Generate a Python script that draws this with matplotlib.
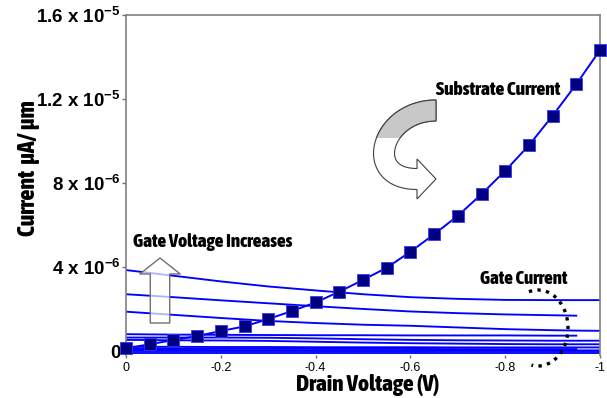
import numpy as np
import matplotlib
matplotlib.use('Agg')
import matplotlib.pyplot as plt
from matplotlib import font_manager
from matplotlib.font_manager import FontProperties
from matplotlib.patches import FancyArrowPatch, Arc, Rectangle, Polygon
from matplotlib.transforms import Affine2D

# ---- data (current in 1e-6 A/um) ----
v_sub = [0, -0.05, -0.1, -0.15, -0.2, -0.25, -0.3, -0.35, -0.4, -0.45, -0.5,
         -0.55, -0.6, -0.65, -0.7, -0.75, -0.8, -0.85, -0.9, -0.95, -1.0]
i_sub = [0.15, 0.34, 0.54, 0.73, 0.97, 1.19, 1.54, 1.92, 2.33, 2.84, 3.40,
         3.98, 4.74, 5.57, 6.45, 7.48, 8.59, 9.80, 11.21, 12.71, 14.33]

v_gate = [0, -0.1, -0.2, -0.3, -0.4, -0.5, -0.6, -0.7, -0.8, -0.9, -0.95, -1.0]
gate_a = [3.87, 3.60, 3.33, 3.09, 2.90, 2.72, 2.58, 2.50, 2.45, 2.44, 2.44, 2.44]
gate_b = [2.72, 2.58, 2.43, 2.29, 2.15, 2.02, 1.90, 1.82, 1.76, 1.72, 1.70, np.nan]
gate_c = [1.89, 1.74, 1.59, 1.45, 1.35, 1.27, 1.22, 1.14, 1.06, 1.01, 0.99, 0.98]
gate_d = [0.82, 0.80, 0.79, 0.78, 0.77, 0.77, 0.76, 0.76, 0.76, 0.75, 0.75, np.nan]
gate_e = [0.66, 0.66, 0.66, 0.65, 0.62, 0.58, 0.55, 0.53, 0.52, 0.51, 0.51, 0.51]
gate_f = [0.55, 0.53, 0.52, 0.50, 0.46, 0.42, 0.39, 0.37, 0.35, 0.34, 0.34, 0.34]
gate_g = [0.22, 0.22, 0.21, 0.21, 0.20, 0.20, 0.20, 0.19, 0.19, 0.19, 0.19, 0.19]
gate_h = [0.14, 0.14, 0.13, 0.13, 0.12, 0.12, 0.12, 0.11, 0.11, 0.11, 0.11, np.nan]
gate_i = [0.07, 0.07, 0.06, 0.06, 0.05, 0.05, 0.05, 0.05, 0.05, 0.05, 0.05, 0.05]
gate_j = [0.00, 0.00, 0.00, 0.00, 0.00, 0.00, 0.00, 0.00, 0.00, 0.00, 0.00, 0.00]
gate_k = [-0.07, -0.07, -0.07, -0.07, -0.07, -0.07, -0.07, -0.07, -0.07, -0.07, -0.07, -0.07]
gate_lines = [gate_a, gate_b, gate_c, gate_d, gate_e, gate_f, gate_g, gate_h, gate_i, gate_j, gate_k]

x_ticks = [0, -0.2, -0.4, -0.6, -0.8, -1.0]
x_labels = ['0', '-0.2', '-0.4', '-0.6', '-0.8', '-1']
y_ticks = [0, 4e-6, 8e-6, 1.2e-5, 1.6e-5]
y_labels = ['0', r'4 x 10$^{-6}$', r'8 x 10$^{-6}$', r'1.2 x 10$^{-5}$', r'1.6 x 10$^{-5}$']

BLUE = '#0000ff'
NAVY = '#000080'


def pick_condensed():
    # look for a narrow / condensed bold face to stand in for Impact
    best = None
    for f in font_manager.fontManager.ttflist:
        nm = f.name.lower()
        narrow = ('condensed' in nm or 'narrow' in nm or
                  str(f.stretch) in ('condensed', 'semi-condensed', 'extra-condensed'))
        if not narrow or 'mono' in nm or 'cjk' in nm:
            continue
        w = f.weight if isinstance(f.weight, int) else (700 if 'bold' in str(f.weight) else 400)
        if 'italic' in str(f.style) or 'oblique' in str(f.style):
            continue
        score = -abs(w - 800)
        if best is None or score > best[0]:
            best = (score, f.fname)
    if best is None:
        return FontProperties(family='Liberation Sans', weight='bold')
    return FontProperties(fname=best[1])


COND = pick_condensed()

plt.rcParams['font.family'] = 'Liberation Sans'
plt.rcParams['mathtext.fontset'] = 'custom'
plt.rcParams['mathtext.rm'] = 'Liberation Sans:bold'
plt.rcParams['mathtext.it'] = 'Liberation Sans:bold'
plt.rcParams['mathtext.bf'] = 'Liberation Sans:bold'

W, H = 607, 398
fig = plt.figure(figsize=(W / 100, H / 100), dpi=100)
ax = fig.add_axes([126 / W, 1 - 355 / H, 474 / W, 340 / H])

for g in gate_lines:
    ax.plot(v_gate, np.array(g) * 1e-6, color=BLUE, lw=1.35, zorder=2)
ax.plot(v_sub, np.array(i_sub) * 1e-6, color=BLUE, lw=1.4, marker='s', ms=8.5,
        mfc=NAVY, mec='#3333ff', mew=0.6, zorder=3, clip_on=False)

ax.set_xlim(0, -1)
ax.set_ylim(-0.17e-6, 1.6e-5)
ax.set_xticks(x_ticks)
ax.set_xticklabels(x_labels, fontsize=9)
ax.set_yticks(y_ticks)
ax.set_yticklabels(y_labels, fontsize=13.5, fontweight='bold')
ax.tick_params(axis='y', direction='out', length=3, width=1, color='#707070', pad=1)
ax.tick_params(axis='x', direction='out', length=2, width=1, color='#707070', pad=3)
for s in ['left', 'top', 'right']:
    ax.spines[s].set_color('#808080')
    ax.spines[s].set_linewidth(1.2)
ax.spines['bottom'].set_visible(False)

# pixel coordinates (y down) -> display
px = Affine2D().scale(1, -1).translate(0, H)

texts = []


def label(x, y, s, target, ha='left', rot=0, va='center'):
    t = fig.text(x / W, 1 - y / H, s, fontproperties=COND.copy(), ha=ha, va=va,
                 rotation=rot)
    t.set_fontsize(11)
    texts.append((t, target, rot))
    return t


label(368, 391, 'Drain Voltage (V)', 142, ha='center', va='baseline')
label(28, 168, 'Current  \u03bcA/ \u03bcm', 135, ha='center', rot=90)
label(436, 90, 'Substrate Current', 124)
label(133, 242, 'Gate Voltage Increases', 159)
label(480, 279, 'Gate Current', 87)

# scale each label so it spans the same width as in the picture
fig.canvas.draw()
r = fig.canvas.get_renderer()
for t, target, rot in texts:
    bb = t.get_window_extent(r)
    size = bb.height if rot else bb.width
    t.set_fontsize(11 * target / size)

# curved block arrow: centerline is a cubic bezier, gray back half / white front half
p0, p1, p2, p3 = map(np.array, [(436, 110.5), (381, 110.5), (362, 179), (417, 179)])
tt = np.linspace(0, 1, 80)[:, None]
cl = (1 - tt) ** 3 * p0 + 3 * (1 - tt) ** 2 * tt * p1 + 3 * (1 - tt) * tt ** 2 * p2 + tt ** 3 * p3
dd = 3 * (1 - tt) ** 2 * (p1 - p0) + 6 * (1 - tt) * tt * (p2 - p1) + 3 * tt ** 2 * (p3 - p2)
dd = dd / np.linalg.norm(dd, axis=1, keepdims=True)
nn = np.column_stack([-dd[:, 1], dd[:, 0]])
hw = 10.5
left_edge = cl + nn * hw
right_edge = cl - nn * hw
tip = p3 + dd[-1] * 19
head = [p3 + nn[-1] * 20, tip, p3 - nn[-1] * 20]
outline = np.vstack([left_edge, head, right_edge[::-1]])
for fc, z, clip in [('white', 5, None), ('#c8c8c8', 6, (0, 0, W, 138))]:
    poly = Polygon(outline, closed=True, transform=px, fc=fc, ec='#404040', lw=0.8, zorder=z)
    fig.add_artist(poly)
    if clip:
        poly.set_clip_path(Rectangle(clip[:2], clip[2], clip[3], transform=px))

# up arrow (hollow)
up = FancyArrowPatch((160, 323), (160, 258), transform=px,
                     arrowstyle='simple,head_length=11.5,head_width=29,tail_width=14',
                     mutation_scale=1, shrinkA=0, shrinkB=0,
                     fc=(1, 1, 1, 0.7), ec='#707070', lw=1.0, zorder=5)
fig.add_artist(up)

# dotted bracket around gate current
arc = Arc((538, 328), 60, 76, theta1=-104, theta2=100, transform=px,
          color='black', lw=2.4, ls=(0, (1, 1.6)), zorder=6)
fig.add_artist(arc)

fig.savefig('out.png', dpi=100)
